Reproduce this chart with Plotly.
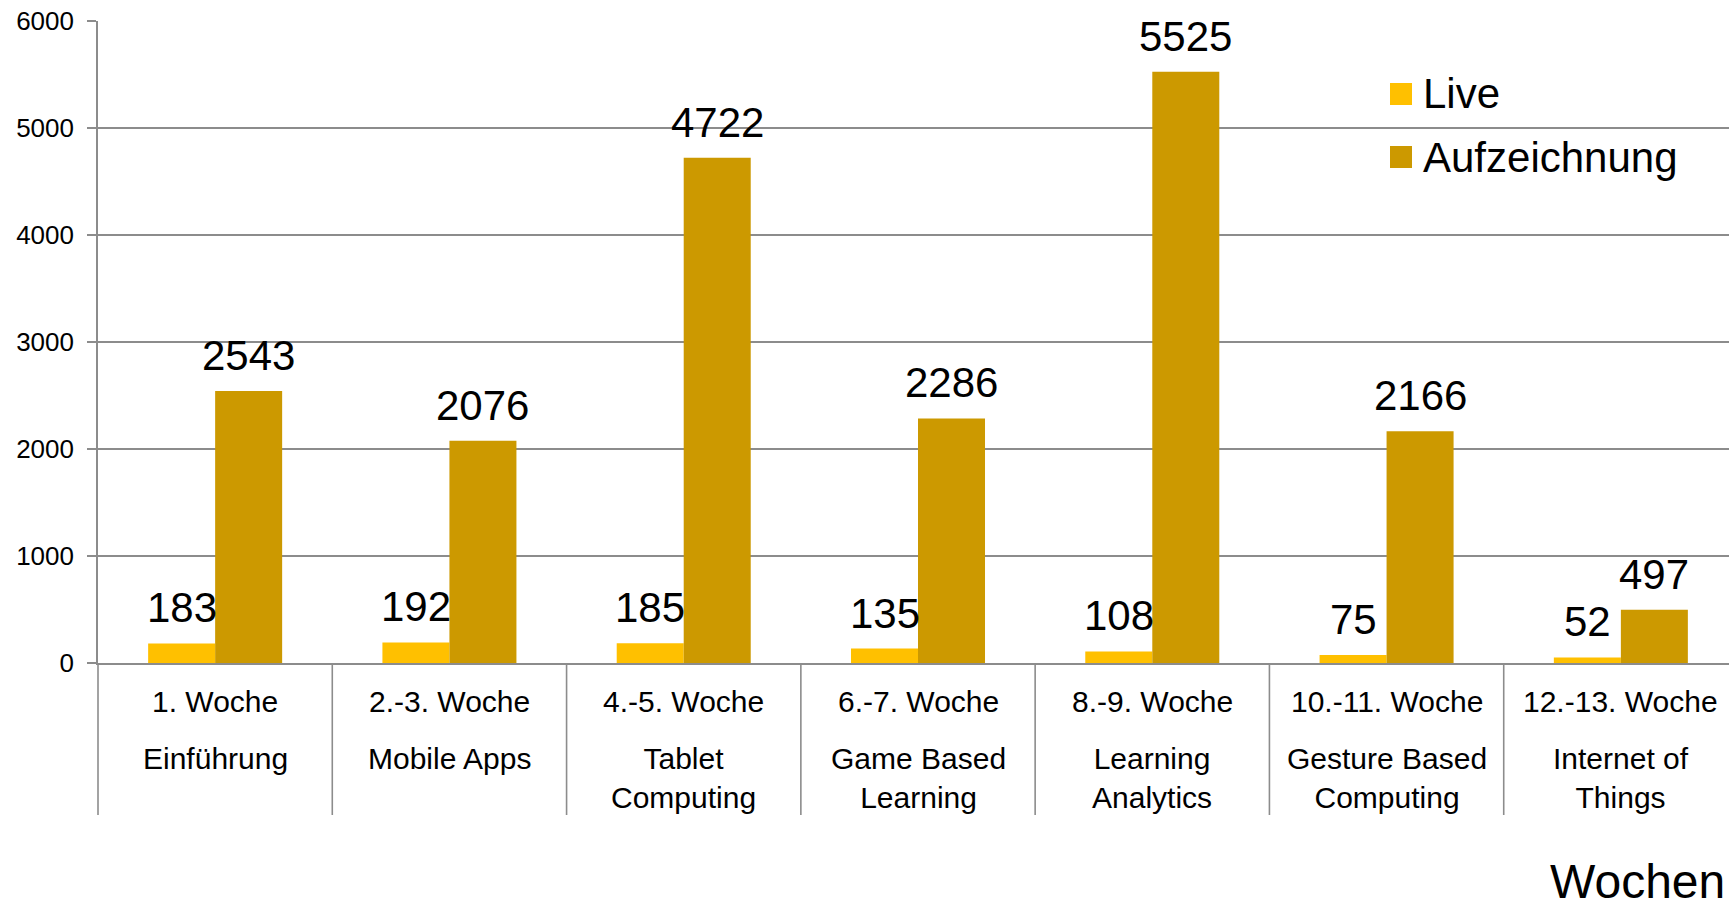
import plotly.graph_objects as go

# ---- data ----
weeks = ["1. Woche", "2.-3. Woche", "4.-5. Woche", "6.-7. Woche",
         "8.-9. Woche", "10.-11. Woche", "12.-13. Woche"]
topics = ["Einführung", "Mobile Apps", "Tablet<br>Computing", "Game Based<br>Learning",
          "Learning<br>Analytics", "Gesture Based<br>Computing", "Internet of<br>Things"]
live = [183, 192, 185, 135, 108, 75, 52]
aufzeichnung = [2543, 2076, 4722, 2286, 5525, 2166, 497]
series_names = ["Live", "Aufzeichnung"]
y_ticks = [0, 1000, 2000, 3000, 4000, 5000, 6000]
x_title = "Wochen"

# ---- style ----
FONT = "Liberation Sans, Arial, sans-serif"
C_LIVE = "#FFC000"
C_AUFZ = "#CC9900"
GRID = "#8C8C8C"
W, H = 1729, 912
ML, MT, MB = 98, 21, 249
PW, PH = W - ML, H - MT - MB
BARGAP = 0.428
XMIN, XMAX = -0.5, 6.5 - 9 / 234.3

x = list(range(len(weeks)))
fig = go.Figure()
fig.add_trace(go.Bar(x=x, y=live, name=series_names[0], marker_color=C_LIVE,
                     marker_line_width=0, showlegend=False))
fig.add_trace(go.Bar(x=x, y=aufzeichnung, name=series_names[1], marker_color=C_AUFZ,
                     marker_line_width=0, showlegend=False))

bw = (1 - BARGAP) / 2
ann = []
for i in x:
    for off, vals in ((-bw / 2, live), (bw / 2, aufzeichnung)):
        ann.append(dict(x=i + off, y=vals[i], xref="x", yref="y", text=str(vals[i]),
                        showarrow=False, yanchor="bottom", yshift=10,
                        font=dict(family=FONT, size=42, color="black")))
    ann.append(dict(x=i, y=0, xref="x", yref="paper", text=weeks[i], showarrow=False,
                    yanchor="middle", yshift=-38, font=dict(family=FONT, size=30, color="black")))
    ann.append(dict(x=i, y=0, xref="x", yref="paper", text=topics[i], showarrow=False,
                    yanchor="top", yshift=-77, font=dict(family=FONT, size=30, color="black")))

ann.append(dict(x=1, y=0, xref="paper", yref="paper", text=x_title, showarrow=False,
                xanchor="right", yanchor="middle", xshift=-2, yshift=-218,
                font=dict(family=FONT, size=48, color="black")))

def px_x(p):
    return (p - ML) / PW

def px_y(p):
    return (MT + PH - p) / PH

shapes = []
# legend swatches + labels
for k, (name, col, cy) in enumerate(((series_names[0], C_LIVE, 94), (series_names[1], C_AUFZ, 157))):
    shapes.append(dict(type="rect", xref="paper", yref="paper",
                       x0=px_x(1390), x1=px_x(1412), y0=px_y(cy + 11), y1=px_y(cy - 11),
                       fillcolor=col, line_width=0))
    ann.append(dict(x=px_x(1421), y=px_y(cy), xref="paper", yref="paper", text=name,
                    showarrow=False, xanchor="left", yanchor="middle",
                    font=dict(family=FONT, size=42, color="black")))

# category separators extending below the axis
for k in range(len(weeks) + 1):
    xb = k - 0.5
    if xb > XMAX:
        continue
    xp = (xb - XMIN) / (XMAX - XMIN)
    shapes.append(dict(type="line", xref="paper", yref="paper", x0=xp, x1=xp,
                       y0=0, y1=px_y(815), line=dict(color=GRID, width=1.6)))

fig.update_layout(
    barmode="group", bargap=BARGAP, bargroupgap=0,
    width=W, height=H,
    margin=dict(l=ML, r=0, t=MT, b=MB, pad=0),
    plot_bgcolor="white", paper_bgcolor="white",
    font=dict(family=FONT, color="black"),
    showlegend=False,
    annotations=ann, shapes=shapes,
    xaxis=dict(range=[XMIN, XMAX], showticklabels=False, showgrid=False, zeroline=False,
               showline=True, linecolor=GRID, linewidth=1.6, ticks=""),
    yaxis=dict(range=[0, 6000], tickvals=y_ticks, showgrid=True, gridcolor=GRID, gridwidth=1.6,
               zeroline=False, showline=True, linecolor=GRID, linewidth=1.6,
               ticks="outside", ticklen=9, tickcolor=GRID, tickwidth=1.6,
               tickfont=dict(family=FONT, size=26, color="black"), ticklabelstandoff=8),
)

fig.write_html("out.html", config={"displayModeBar": False},
               post_script="document.body.style.margin='0';document.body.style.overflow='hidden';")
